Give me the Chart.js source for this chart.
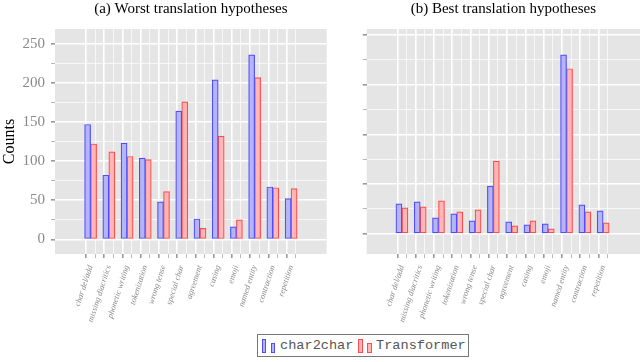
<!DOCTYPE html>
<html>
<head>
<meta charset="utf-8">
<script src="https://cdn.jsdelivr.net/npm/chart.js@4/dist/chart.umd.min.js"></script>
<style>
  html, body { margin:0; padding:0; background:#fff; }
  body { width:640px; height:362px; position:relative; overflow:hidden; }
  .panel { position:absolute; top:0; height:330px; }
  #wrapA { left:0; width:330px; }
  #wrapB { left:330px; width:310px; }
  #legend { position:absolute; left:257px; top:334px; width:212px; height:23px;
    border:1px solid #777; background:#fff; box-sizing:border-box; }
  #legend i { position:absolute; box-sizing:border-box; border:1px solid; }
  #legend span { position:absolute; top:3px; font:13.6px "Liberation Mono", monospace; color:#555; }
</style>
</head>
<body>
<div id="wrapA" class="panel"><canvas id="chartA"></canvas></div>
<div id="wrapB" class="panel"><canvas id="chartB"></canvas></div>
<div id="legend">
  <i style="left:4px; top:4px; width:4px; height:14px; background:#b4b4f6; border-color:#4d4dff"></i>
  <i style="left:13px; top:8px; width:4px; height:10px; background:#b4b4f6; border-color:#4d4dff"></i>
  <span style="left:22px">char2char</span>
  <i style="left:100px; top:4px; width:5px; height:14px; background:#ffb6b6; border-color:#ff4d4d"></i>
  <i style="left:109px; top:8px; width:5px; height:10px; background:#ffb6b6; border-color:#ff4d4d"></i>
  <span style="left:118px">Transformer</span>
</div>
<script>
// 카테고리 / 값
const categories = ['char del/add','missing diacritics','phonetic writing','tokenization','wrong tense',
  'special char','agreement','casing','emoji','named entity','contraction','repetition'];

const worstChar2char   = [147, 82, 123, 104, 48, 164, 26, 204, 16, 236, 67, 52];
const worstTransformer = [122, 112, 106, 102, 61, 176, 14, 132, 25, 207, 66, 65];

const bestChar2char    = [30, 32, 16, 20, 13, 48, 12, 9, 10, 180, 29, 23];
const bestTransformer  = [26, 27, 33, 22, 24, 73, 8, 13, 5, 166, 22, 11];

const worstYTicks = [0, 25, 50, 75, 100, 125, 150, 175, 200, 225, 250];
const bestYTicks  = [0, 25, 50, 75, 100, 125, 150, 175, 200];
const xTickPos    = [0, 0.5, 1, 1.5, 2, 2.5, 3, 3.5, 4, 4.5, 5, 5.5, 6, 6.5, 7, 7.5, 8, 8.5, 9, 9.5, 10, 10.5, 11];

const SERIF = '"Liberation Serif", "DejaVu Serif", serif';

const bgPlugin = {
  id: 'panelBg',
  beforeDraw(chart){
    const {ctx, chartArea:a} = chart;
    ctx.save();
    ctx.fillStyle = '#e5e5e5';
    ctx.fillRect(a.left, a.top, a.right - a.left, a.bottom - a.top);
    ctx.restore();
  }
};
const titlePlugin = {
  id: 'panelTitle',
  afterDraw(chart, args, opts){
    const {ctx, chartArea:a} = chart;
    ctx.save();
    ctx.font = '15px ' + SERIF;
    ctx.fillStyle = '#000';
    ctx.textAlign = 'center';
    ctx.textBaseline = 'middle';
    ctx.fillText(opts.text, (a.left + a.right) / 2, 9);
    ctx.restore();
  }
};

function toXY(vals){ return vals.map((v,i)=>({x:i, y:v})); }

function makeChart(id, title, c2c, trf, yTicks, cfg){
  return new Chart(document.getElementById(id), {
    type: 'bar',
    data: {
      datasets: [
        { label:'char2char', data: toXY(c2c), backgroundColor:'#b4b4f6', borderColor:'#4d4dff',
          borderWidth:1.2, borderSkipped:false, barThickness:6 },
        { label:'Transformer', data: toXY(trf), backgroundColor:'#ffb6b6', borderColor:'#ff4d4d',
          borderWidth:1.2, borderSkipped:false, barThickness:6 }
      ]
    },
    plugins: [bgPlugin, titlePlugin],
    options: {
      responsive:true, maintainAspectRatio:false, animation:false, devicePixelRatio:1,
      layout: { padding: { top:29, left:0, right:cfg.padRight, bottom:0 } },
      plugins: { legend:{display:false}, tooltip:{enabled:false}, panelTitle:{ text:title } },
      scales: {
        x: {
          type:'linear', min:cfg.xMin, max:cfg.xMax,
          afterBuildTicks: s => { s.ticks = xTickPos.map(v=>({value:v})); },
          afterFit: s => { s.height = 76; },
          border: { display:false },
          grid: {
            color:'#fff', tickColor:'#999', tickLength:4,
            lineWidth: c => (c.tick && Number.isInteger(c.tick.value)) ? 1.6 : 0.7
          },
          ticks: {
            autoSkip:false, minRotation:72, maxRotation:72, padding:6, color:'#8c8c8c',
            font:{ family:SERIF, size:8.4, style:'italic' },
            callback: v => Number.isInteger(v) ? categories[v] : ''
          }
        },
        y: {
          min:cfg.yMin, max:cfg.yMax,
          afterBuildTicks: s => { s.ticks = yTicks.map(v=>({value:v})); },
          afterFit: s => { s.width = cfg.yWidth; },
          border: { display:false },
          grid: {
            color:'#fff', tickColor:'#999', tickLength:4,
            lineWidth: c => (c.tick && c.tick.value % 50 === 0) ? 1.6 : 0.7
          },
          ticks: {
            padding:6, color:'#8a8a8a', font:{ family:SERIF, size:15 },
            callback: v => (cfg.showLabels && v % 50 === 0) ? String(v) : ''
          },
          title: {
            display: cfg.showLabels, text:'Counts', color:'#000',
            font:{ family:SERIF, size:16 }, padding:{ top:0, bottom:0 }
          }
        }
      }
    }
  });
}

makeChart('chartA', '(a) Worst translation hypotheses', worstChar2char, worstTransformer, worstYTicks,
  { xMin:-1.63, xMax:12.63, yMin:-18.8, yMax:269.2, yWidth:55, padRight:3.3, showLabels:true });
makeChart('chartB', '(b) Best translation hypotheses', bestChar2char, bestTransformer, bestYTicks,
  { xMin:-1.6, xMax:12.69, yMin:-20.4, yMax:206, yWidth:36.7, padRight:0, showLabels:false });
</script>
</body>
</html>
